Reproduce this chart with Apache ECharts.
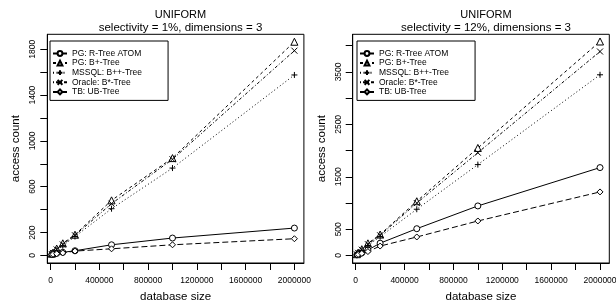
<!DOCTYPE html>
<html><head><meta charset="utf-8">
<script src="https://cdn.jsdelivr.net/npm/echarts@6/dist/echarts.min.js"></script>
<style>html,body{margin:0;padding:0;background:#fff}#c{width:616px;height:305px}</style>
</head><body><div id="c"></div>
<script>
const dbSize = [10000, 20000, 50000, 100000, 200000, 500000, 1000000, 2000000];
const seriesNames = ['PG: R-Tree ATOM', 'PG: B+-Tree', 'MSSQL: B++-Tree', 'Oracle: B*-Tree', 'TB: UB-Tree'];
// selectivity = 1%
const rtree1  = [8, 12, 18, 27, 41, 93, 152, 239];
const bplus1  = [15, 25, 60, 106, 181, 481, 850, 1866];
const mssql1  = [10, 20, 45, 85, 165, 408, 763, 1576];
const oracle1 = [12, 22, 52, 96, 176, 452, 840, 1788];
const ubtree1 = [8, 10, 15, 22, 38, 58, 93, 146];
// selectivity = 12%
const rtree12  = [12, 22, 50, 105, 235, 511, 945, 1676];
const bplus12  = [25, 55, 120, 232, 400, 1034, 2050, 4080];
const mssql12  = [20, 45, 95, 190, 360, 882, 1733, 3445];
const oracle12 = [22, 50, 110, 215, 385, 1000, 1960, 3889];
const ubtree12 = [10, 20, 40, 75, 180, 353, 658, 1212];
// ticks
const xTicks = [0, 200000, 400000, 600000, 800000, 1000000, 1200000, 1400000, 1600000, 1800000, 2000000];
const xLabels = [0, 400000, 800000, 1200000, 1600000, 2000000];
const yTicks1 = [0, 200, 400, 600, 800, 1000, 1200, 1400, 1600, 1800];
const yLabels1 = [0, 200, 600, 1000, 1400, 1800];
const yTicks12 = [0, 500, 1000, 1500, 2000, 2500, 3000, 3500, 4000];
const yLabels12 = [0, 500, 1500, 2500, 3500];

const FONT = 'Liberation Sans, Arial, Helvetica, sans-serif';
const styles = [
  {symbol: 'circle', line: 'solid'},
  {symbol: 'triangle', line: [3, 3]},
  {symbol: 'path://M5,0L5,10M0,5L10,5', line: [1, 2.5]},
  {symbol: 'path://M0,0L10,10M0,10L10,0', line: [1, 2, 3, 2]},
  {symbol: 'diamond', line: [6, 3]}
];
const data1 = [rtree1, bplus1, mssql1, oracle1, ubtree1];
const data12 = [rtree12, bplus12, mssql12, oracle12, ubtree12];

function mkSeries(arrs, idx) {
  return arrs.map((arr, i) => ({
    name: seriesNames[i], type: 'line', xAxisIndex: idx, yAxisIndex: idx,
    data: dbSize.map((x, j) => [x, arr[j]]),
    symbol: styles[i].symbol, symbolSize: i === 1 ? 7 : 6,
    showSymbol: true, animation: false, silent: true,
    lineStyle: {color: '#000', width: 1, type: styles[i].line},
    itemStyle: {color: '#fff', borderColor: '#000', borderWidth: 1},
    z: 3
  }));
}
const plain = v => String(v);
function mkX(idx, min, max) {
  return {
    gridIndex: idx, type: 'value', min: min, max: max,
    name: 'database size', nameLocation: 'middle', nameGap: 28,
    nameTextStyle: {fontFamily: FONT, fontSize: 11.5, color: '#000'},
    axisLine: {show: true, onZero: false, lineStyle: {color: '#000'}},
    axisTick: {show: true, length: 7, customValues: xTicks, lineStyle: {color: '#000'}},
    axisLabel: {customValues: xLabels, formatter: plain, fontFamily: FONT, fontSize: 8.5, color: '#000', margin: 13, hideOverlap: false},
    splitLine: {show: false}
  };
}
function mkY(idx, min, max, ticks, labels) {
  return {
    gridIndex: idx, type: 'value', min: min, max: max,
    name: 'access count', nameLocation: 'middle', nameGap: 25,
    nameTextStyle: {fontFamily: FONT, fontSize: 11.5, color: '#000'},
    axisLine: {show: true, onZero: false, lineStyle: {color: '#000'}},
    axisTick: {show: true, length: 7, customValues: ticks, lineStyle: {color: '#000'}},
    axisLabel: {customValues: labels, formatter: plain, rotate: 90, fontFamily: FONT, fontSize: 8.5, color: '#000', margin: 10, hideOverlap: false},
    splitLine: {show: false}
  };
}
function mkLegend(left) {
  return {
    orient: 'vertical', left: left, top: 41, data: seriesNames,
    borderColor: '#000', borderWidth: 1, borderRadius: 0,
    padding: [8, 26, 4, 2], itemGap: 0.6, itemWidth: 14, itemHeight: 6,
    textStyle: {fontFamily: FONT, fontSize: 8.5, color: '#000', lineHeight: 6},
    selectedMode: false
  };
}
const chart = echarts.init(document.getElementById('c'), null, {renderer: 'canvas'});
chart.setOption({
  animation: false,
  backgroundColor: '#fff',
  title: [
    {text: 'UNIFORM', subtext: 'selectivity = 1%, dimensions = 3', left: 175.5, textAlign: 'center', top: 4, itemGap: 2,
     textStyle: {fontFamily: FONT, fontSize: 11, fontWeight: 'normal', color: '#000'},
     subtextStyle: {fontFamily: FONT, fontSize: 11.5, color: '#000'}},
    {text: 'UNIFORM', subtext: 'selectivity = 12%, dimensions = 3', left: 481, textAlign: 'center', top: 4, itemGap: 2,
     textStyle: {fontFamily: FONT, fontSize: 11, fontWeight: 'normal', color: '#000'},
     subtextStyle: {fontFamily: FONT, fontSize: 11.5, color: '#000'}}
  ],
  legend: [mkLegend(50), mkLegend(357)],
  grid: [
    {left: 47.3, top: 34.3, width: 256.6, height: 228.7, outerBoundsMode: 'none', containLabel: false, show: true, borderColor: '#000', borderWidth: 1, backgroundColor: 'transparent'},
    {left: 352.7, top: 34.3, width: 256.6, height: 228.7, outerBoundsMode: 'none', containLabel: false, show: true, borderColor: '#000', borderWidth: 1, backgroundColor: 'transparent'}
  ],
  xAxis: [mkX(0, -27000, 2078000), mkX(1, -24560, 2076000)],
  yAxis: [mkY(0, -66, 1931, yTicks1, yLabels1), mkY(1, -143, 4217, yTicks12, yLabels12)],
  series: mkSeries(data1, 0).concat(mkSeries(data12, 1))
});
</script></body></html>
